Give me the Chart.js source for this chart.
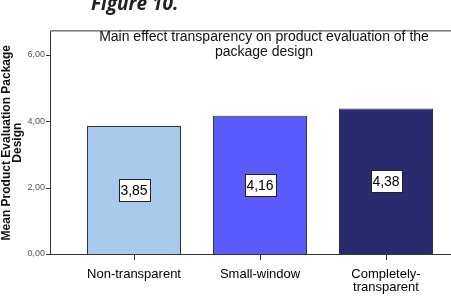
<!DOCTYPE html>
<html>
<head>
<meta charset="utf-8">
<script src="https://cdn.jsdelivr.net/npm/chart.js@4"></script>
<style>
  html, body { margin: 0; padding: 0; background: #fff; }
  #wrap { width: 451px; height: 300px; position: relative; }
</style>
</head>
<body>
<div id="wrap"><canvas id="chart" width="451" height="300"></canvas></div>
<script>
// data
const categories = ['Non-transparent', 'Small-window', ['Completely-', 'transparent']];
const meanValues = [3.85, 4.16, 4.38];
const yTicks = [0, 2, 4, 6];
const chartTitle = ['Main effect transparency on product evaluation of the', 'package design'];
const yTitle = ['Mean Product Evaluation Package', 'Design'];
const figureCaption = 'Figure 10.';

// styles
const barColors = ['#a9cbeb', '#5c5cfe', '#2a2a6f'];
const fontFamily = '"Liberation Sans", Arial, sans-serif';
const fmt = v => v.toFixed(2).replace('.', ',');

Chart.defaults.font.family = fontFamily;
Chart.defaults.color = '#111';

// frame lines + y tick marks (SPSS style box, axis sits left of the bars)
const framePlugin = {
    id: 'frame',
    afterDatasetsDraw(chart) {
        const ctx = chart.ctx;
        const area = chart.chartArea;
        const y = chart.scales.y;
        ctx.save();
        ctx.strokeStyle = '#333';
        ctx.lineWidth = 1;
        ctx.beginPath();
        ctx.moveTo(50.5, area.top - 0.5);
        ctx.lineTo(chart.width, area.top - 0.5);
        ctx.moveTo(50.5, area.top - 0.5);
        ctx.lineTo(50.5, area.bottom);
        ctx.moveTo(50, Math.round(area.bottom) + 0.5);
        ctx.lineTo(chart.width, Math.round(area.bottom) + 0.5);
        yTicks.forEach(v => {
            const py = Math.round(y.getPixelForValue(v)) + 0.5;
            ctx.moveTo(46, py);
            ctx.lineTo(50.5, py);
        });
        ctx.stroke();
        ctx.restore();
    }
};

// value boxes in the middle of each bar
const valueBoxPlugin = {
    id: 'valueBox',
    afterDatasetsDraw(chart) {
        const ctx = chart.ctx;
        const meta = chart.getDatasetMeta(0);
        ctx.save();
        ctx.font = '14px ' + fontFamily;
        ctx.textAlign = 'center';
        ctx.textBaseline = 'middle';
        meta.data.forEach((bar, i) => {
            const txt = fmt(meanValues[i]);
            const cy = (bar.y + bar.base) / 2;
            const w = Math.round(ctx.measureText(txt).width) + 4;
            const h = 22;
            const x0 = Math.round(bar.x - w / 2) + 0.5;
            const y0 = Math.round(cy - h / 2) + 0.5;
            ctx.fillStyle = '#fff';
            ctx.fillRect(x0, y0, w, h);
            ctx.strokeStyle = '#222';
            ctx.strokeRect(x0, y0, w, h);
            ctx.fillStyle = '#000';
            ctx.fillText(txt, bar.x, cy + 1);
        });
        ctx.restore();
    }
};

// title inside the frame and the cut-off caption above
const titlePlugin = {
    id: 'titles',
    afterDraw(chart) {
        const ctx = chart.ctx;
        ctx.save();
        ctx.fillStyle = '#111';
        ctx.textAlign = 'center';
        ctx.textBaseline = 'middle';
        ctx.font = '14px ' + fontFamily;
        ctx.fillText(chartTitle[0], 264, 37);
        ctx.fillText(chartTitle[1], 264, 52);
        ctx.textAlign = 'left';
        ctx.textBaseline = 'alphabetic';
        ctx.font = 'italic bold 19px "Open Sans", sans-serif';
        ctx.fillStyle = '#222';
        ctx.fillText(figureCaption, 91, 10);
        ctx.restore();
    }
};

new Chart(document.getElementById('chart'), {
    type: 'bar',
    data: {
        labels: categories,
        datasets: [{
            data: meanValues,
            backgroundColor: barColors,
            borderColor: '#333',
            borderWidth: 1,
            categoryPercentage: 1,
            barPercentage: 0.746
        }]
    },
    options: {
        responsive: false,
        animation: false,
        layout: { padding: { top: 24, right: 2, left: 0, bottom: 0 } },
        plugins: {
            legend: { display: false },
            tooltip: { enabled: false }
        },
        scales: {
            x: {
                afterFit: s => { s.height = 46; },
                border: { display: false },
                grid: {
                    offset: false,
                    drawOnChartArea: false,
                    drawTicks: true,
                    tickLength: 6,
                    color: '#333'
                },
                ticks: {
                    color: '#000',
                    padding: 8,
                    maxRotation: 0,
                    autoSkip: false,
                    font: { size: 13, lineHeight: 1.0 }
                }
            },
            y: {
                min: 0,
                max: 6.7,
                afterFit: s => { s.width = 71; },
                afterBuildTicks: s => { s.ticks = yTicks.map(v => ({ value: v })); },
                border: { display: false },
                grid: { display: false, drawTicks: false },
                ticks: {
                    padding: 26,
                    color: '#555',
                    font: { size: 9 },
                    callback: v => fmt(v)
                },
                title: {
                    display: true,
                    text: yTitle,
                    color: '#111',
                    padding: { top: 1, bottom: 0 },
                    font: { size: 12, weight: 'bold', lineHeight: 0.9 }
                }
            }
        }
    },
    plugins: [framePlugin, valueBoxPlugin, titlePlugin]
});
</script>
</body>
</html>
